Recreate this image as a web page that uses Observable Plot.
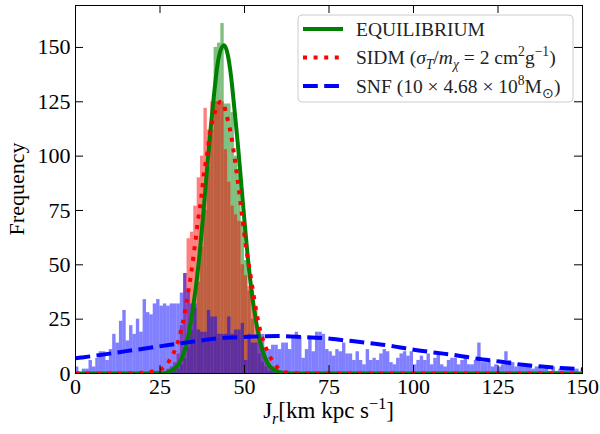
<!DOCTYPE html>
<html><head><meta charset="utf-8">
<script src="https://cdn.jsdelivr.net/npm/d3@7"></script>
<script src="https://cdn.jsdelivr.net/npm/@observablehq/plot@0.6"></script>
<style>body{margin:0;background:#fff;} #chart{width:600px;height:434px;}</style>
</head><body><div id="chart"></div>
<script>
// ---- data ----
// SNF histogram: counts for bins [0,1), [1,2), ... [149,150)
const blueCounts = [
  3,0,2,2,6,3,7,10,10,6, 11,18,14,24,29,15,22,18,25,19,
  34,28,27,32,34,31,32,31,32,32, 32,37,46,38,32,32,20,19,19,29,
  26,26,18,18,18,26,18,20,20,23, 6,18,14,14,18,18,11,11,13,13,
  11,14,14,11,16,19,17,7,11,17, 10,19,19,18,11,10,8,11,10,14,
  9,9,6,10,6,4,11,6,7,6, 9,11,10,5,4,7,9,10,8,10,
  4,6,8,6,9,4,7,9,4,3, 6,7,7,4,6,7,4,4,6,14,
  5,5,6,3,4,3,4,10,6,5, 3,3,3,3,3,2,3,3,2,3,
  1,3,1,2,2,2,2,2,2,0
];
// EQUILIBRIUM histogram, starting at bin 29
const greenFirstBin = 29;
const greenCounts = [1,2,4,7,12,20,30,42,58,75,95,112,150,152,161,124,124,120,100,92,70,52,38,25,16,9,5,3,1,1];
// SIDM histogram, starting at bin 23
const redFirstBin = 23;
const redCounts = [1,1,0,1,2,3,5,9,22,46,62,65,77,90,100,122,112,125,125,125,125,103,88,77,73,70,50,45,40,38,30,20,12,7,4,3,2,1,1,1];

// fitted curves
const greenCurveX = [0,20,26,27,28,29,30,31,32,33,34,35,36,37,38,39,40,41,42,43,44,45,46,47,48,49,50,51,52,53,54,55,56,57,58,59,60,61,62,64,70,150];
const greenCurveY = [0,0,0.1,0.4,1.0,1.9,3.3,5.6,9.2,14.7,22.7,32.8,44.8,59.6,77,95.5,113,128.6,142,149,151,147,137,122,106,88,70,53,39,28,19,12.3,7.6,4.5,2.4,1.5,0.7,0.4,0.2,0.05,0,0];
const redCurveX = [0,15,20,23.2,26.1,28.1,29.6,30.6,31.4,32.1,32.6,33.2,33.7,34.2,35.5,36.3,37.3,38,39,39.9,40.6,41.6,42.9,43.7,44.5,45.3,46,47,48.3,50.3,52.3,53.4,54.7,55.7,56.9,58.4,60.6,63.6,67,75,150];
const redCurveY = [0,0.05,0.3,1.1,2.6,6.8,11.4,16,21,26,31,36,41,46,61,71,82,92,101.5,112,116.6,121.7,125,124.5,120,115,110,100,85,60,40,29.3,19.5,14.4,9.8,5.5,1.7,0.2,0.05,0,0];
const blueCurveX = [0,2,8.6,15,21.5,28,35,41,47,54,60,67,74,80,86.5,93,99,106,113,119,125.5,131.5,138,145,150];
const blueCurveY = [7,7.4,8.8,10.3,11.7,13.2,14.7,16,16.6,17,17.2,16.8,16.2,15.2,14.1,12.8,11.2,9.7,8.3,6.8,5.5,4.1,3.2,2.4,1.9];

// ticks and labels
const xTicks = [0,25,50,75,100,125,150];
const yTicks = [0,25,50,75,100,125,150];
const yLabel = "Frequency";
const xLabelParts = [["J",""],["r","is"],["[km kpc s",""],["\u22121","p"],["]",""]];
const legendItems = [
  {color:"#008000", dash:null, parts:[["EQUILIBRIUM",""]]},
  {color:"#ff0000", dash:"4,6.6", parts:[["SIDM (",""],["\u03c3","i"],["T","is"],["/",""],["m","i"],["\u03c7","is"],[" = 2 cm",""],["2","p"],["g",""],["\u22121","p"],[")",""]]},
  {color:"#0000ff", dash:"14.8,6.4", parts:[["SNF (10 \u00d7 4.68 \u00d7 10",""],["8","p"],["M",""],["\u2299","s"],[")",""]]}
];

// ---- layout ----
const W = 600, H = 434, mL = 75, mR = 18, mT = 5, mB = 61;
const plotW = W - mL - mR, plotH = H - mT - mB;
const FONT = "Liberation Serif";

const binTable = (first, counts) => counts.map((c, i) => ({x0: first + i, x1: first + i + 1, count: c}));
const curve = (xs, ys) => xs.map((x, i) => ({x, y: ys[i]}));

const chart = Plot.plot({
  width: W, height: H,
  marginLeft: mL, marginRight: mR, marginTop: mT, marginBottom: mB,
  x: {domain: [0, 150]},
  y: {domain: [0, 169.3]},
  style: {fontFamily: FONT, background: "white", color: "black", overflow: "visible"},
  marks: [
    Plot.rect(binTable(greenFirstBin, greenCounts), {x1: "x0", x2: "x1", y1: 0, y2: "count", fill: "#008000", fillOpacity: 0.5}),
    Plot.rect(binTable(redFirstBin, redCounts), {x1: "x0", x2: "x1", y1: 0, y2: "count", fill: "#ff0000", fillOpacity: 0.5}),
    Plot.rect(binTable(0, blueCounts), {x1: "x0", x2: "x1", y1: 0, y2: "count", fill: "#0000ff", fillOpacity: 0.5}),
    Plot.line(curve(greenCurveX, greenCurveY), {x: "x", y: "y", stroke: "#008000", strokeWidth: 4, curve: "monotone-x", clip: true}),
    Plot.line(curve(redCurveX, redCurveY), {x: "x", y: "y", stroke: "#ff0000", strokeWidth: 4, strokeDasharray: "4,6.6", strokeLinecap: "butt", curve: "monotone-x", clip: true}),
    Plot.line(curve(blueCurveX, blueCurveY), {x: "x", y: "y", stroke: "#0000ff", strokeWidth: 4, strokeDasharray: "14.8,6.4", strokeLinecap: "butt", curve: "monotone-x", clip: true}),
    Plot.frame({stroke: "black", strokeWidth: 1}),
    Plot.tickX(xTicks, {x: d => d, insetTop: plotH - 8, stroke: "black"}),
    Plot.tickX(xTicks, {x: d => d, insetBottom: plotH - 8, stroke: "black"}),
    Plot.tickY(yTicks, {y: d => d, insetRight: plotW - 8, stroke: "black"}),
    Plot.tickY(yTicks, {y: d => d, insetLeft: plotW - 8, stroke: "black"}),
    Plot.axisX(xTicks, {tickSize: 0, tickPadding: 5, fontSize: 22, label: null}),
    Plot.axisY(yTicks, {tickSize: 0, tickPadding: 5, fontSize: 22, label: null})
  ]
});
document.getElementById("chart").appendChild(chart);

// ---- rich text helper ----
function rich(textSel, parts, fs) {
  let off = 0;
  parts.forEach(([t, m]) => {
    let target = 0, size = fs;
    if (m.includes("s")) { target = 0.28 * fs; size = 0.7 * fs; }
    if (m.includes("p")) { target = -0.4 * fs; size = 0.7 * fs; }
    const ts = textSel.append("tspan").text(t).attr("dy", target - off).attr("font-size", size);
    if (m.includes("i")) ts.attr("font-style", "italic");
    off = target;
  });
}

const svg = d3.select(chart);
// axis labels
const xl = svg.append("text").attr("x", mL + plotW / 2).attr("y", 418)
  .attr("text-anchor", "middle").attr("font-family", FONT).attr("font-size", 23).attr("fill", "black");
rich(xl, xLabelParts, 23);
svg.append("text").attr("transform", `translate(24,${mT + plotH / 2}) rotate(-90)`)
  .attr("text-anchor", "middle").attr("font-family", FONT).attr("font-size", 22).attr("fill", "black").text(yLabel);

// legend
const lg = svg.append("g");
lg.append("rect").attr("x", 298).attr("y", 15).attr("width", 275).attr("height", 87).attr("rx", 4)
  .attr("fill", "white").attr("fill-opacity", 0.8).attr("stroke", "#cccccc");
legendItems.forEach((it, i) => {
  const cy = 29 + i * 28.5;
  lg.append("line").attr("x1", 303).attr("x2", 343).attr("y1", cy).attr("y2", cy)
    .attr("stroke", it.color).attr("stroke-width", 4).attr("stroke-dasharray", it.dash);
  const t = lg.append("text").attr("x", 356).attr("y", cy + 6.5).attr("text-anchor", "start")
    .attr("font-family", FONT).attr("font-size", 19.5).attr("fill", "#222");
  rich(t, it.parts, 19.5);
});
</script>
</body></html>
